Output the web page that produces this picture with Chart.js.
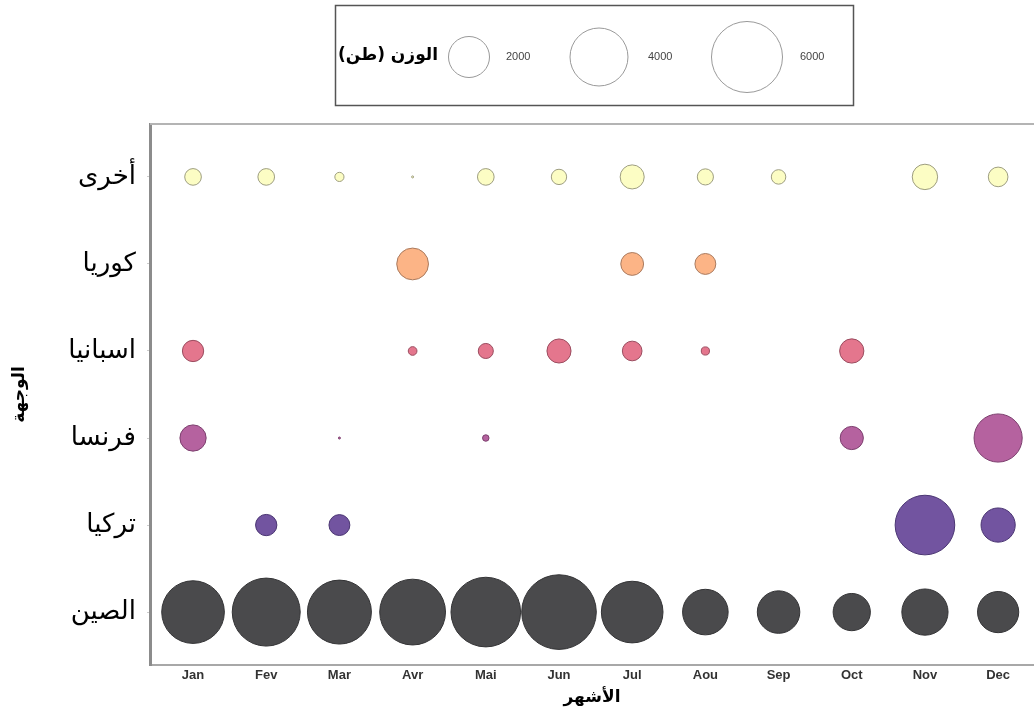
<!DOCTYPE html>
<html>
<head>
<meta charset="utf-8">
<script src="https://cdn.jsdelivr.net/npm/chart.js@4.4.0/dist/chart.umd.min.js"></script>
<style>
  html, body { margin: 0; padding: 0; background: #fff; overflow: hidden; }
  canvas { display: block; }
</style>
</head>
<body>
<canvas id="grafico" width="1034" height="716"></canvas>
<script>
// meses e destinos
var meses = ['Jan', 'Fev', 'Mar', 'Avr', 'Mai', 'Jun', 'Jul', 'Aou', 'Sep', 'Oct', 'Nov', 'Dec'];
var destinos = ['الصين', 'تركيا', 'فرنسا', 'اسبانيا', 'كوريا', 'أخرى'];

// الوزن (طن) por mes, null = sem envio
var peso_china   = [4670, 5500, 4870, 5150, 5770, 6630, 4520, 2470, 2150, 1650, 2540, 2020];
var peso_turquia = [null, 540, 520, null, null, null, null, null, null, null, 4230, 1390];
var peso_franca  = [820, null, 5, null, 50, null, null, null, null, 640, null, 2760];
var peso_espanha = [540, null, null, 90, 270, 690, 460, 80, null, 700, null, null];
var peso_coreia  = [null, null, null, 1200, null, null, 620, 520, null, null, null, null];
var peso_outros  = [330, 330, 100, 5, 330, 280, 690, 310, 250, null, 770, 460];

var legenda_pesos = [2000, 4000, 6000];

var cores = ['#4a4a4c', '#7254a0', '#b5629f', '#e4768d', '#fcb486', '#fcfdc4'];
var bordas = ['#333335', '#4a3572', '#7c3f6e', '#9a4b5e', '#a97a5e', '#9d9d80'];

function raio(peso) {
    return 20.5 * Math.sqrt(peso / 2000);
}

function montarPontos(pesos, linha) {
    return pesos.map(function (p, m) {
        return p == null ? null : { x: m, y: linha, r: raio(p) };
    }).filter(Boolean);
}

var series = [peso_china, peso_turquia, peso_franca, peso_espanha, peso_coreia, peso_outros];
var datasets = series.map(function (pesos, i) {
    return {
        label: destinos[i],
        data: montarPontos(pesos, i),
        backgroundColor: cores[i],
        borderColor: bordas[i],
        borderWidth: 1
    };
});

// legenda de tamanhos + borda de cima
var extras = {
    id: 'extras',
    afterDraw: function (chart) {
        var c = chart.ctx;
        var area = chart.chartArea;
        c.save();
        c.strokeStyle = '#b4b4b4';
        c.lineWidth = 2;
        c.beginPath();
        c.moveTo(area.left, area.top);
        c.lineTo(area.right, area.top);
        c.stroke();

        c.strokeStyle = '#555';
        c.lineWidth = 1.5;
        c.strokeRect(335.5, 5.5, 518, 100);

        c.fillStyle = '#000';
        c.font = 'bold 17px "DejaVu Sans"';
        c.textAlign = 'right';
        c.textBaseline = 'middle';
        c.fillText('الوزن (طن)', 438, 56);

        var cx = [469, 599, 747];
        var tx = [506, 648, 800];
        c.font = '11px "Liberation Sans"';
        c.textAlign = 'left';
        legenda_pesos.forEach(function (p, i) {
            c.beginPath();
            c.arc(cx[i], 57, raio(p), 0, Math.PI * 2);
            c.strokeStyle = '#999';
            c.lineWidth = 1;
            c.stroke();
            c.fillStyle = '#444';
            c.fillText(String(p), tx[i], 57);
        });
        c.restore();
    }
};

var ctx = document.getElementById('grafico').getContext('2d');
var grafico = new Chart(ctx, {
    type: 'bubble',
    data: { datasets: datasets },
    options: {
        responsive: false,
        animation: false,
        layout: { autoPadding: false, padding: { top: 124, right: 0, left: 0, bottom: 0 } },
        plugins: {
            legend: { display: false },
            tooltip: { enabled: false }
        },
        scales: {
            x: {
                type: 'linear',
                min: -0.588,
                max: 11.49,
                afterBuildTicks: function (axis) {
                    axis.ticks = meses.map(function (m, i) { return { value: i }; });
                },
                afterFit: function (scale) { scale.height = 51; },
                grid: { display: false, drawTicks: false },
                border: { display: true, color: '#a8a8a8', width: 2 },
                ticks: {
                    autoSkip: false,
                    maxRotation: 0,
                    padding: 3,
                    color: '#333',
                    font: { family: 'Liberation Sans', size: 13, weight: 'bold' },
                    callback: function (v) { return meses[v]; }
                },
                title: {
                    display: true,
                    text: 'الأشهر',
                    color: '#000',
                    padding: { top: 0, bottom: 8 },
                    font: { family: 'DejaVu Sans', size: 17, weight: 'bold' }
                }
            },
            y: {
                type: 'linear',
                min: -0.608,
                max: 5.608,
                afterBuildTicks: function (axis) {
                    axis.ticks = destinos.map(function (d, i) { return { value: i }; });
                },
                afterFit: function (scale) { scale.width = 150; },
                grid: { drawOnChartArea: false, tickLength: 3, color: '#cccccc' },
                border: { display: true, color: '#8c8c8c', width: 3 },
                ticks: {
                    autoSkip: false,
                    padding: 11,
                    color: '#000',
                    font: { family: 'DejaVu Sans', size: 26 },
                    callback: function (v) { return destinos[v]; }
                },
                title: {
                    display: true,
                    text: 'الوجهة',
                    color: '#000',
                    padding: { top: 9, bottom: 0 },
                    font: { family: 'DejaVu Sans', size: 17, weight: 'bold' }
                }
            }
        }
    },
    plugins: [extras]
});
</script>
</body>
</html>
